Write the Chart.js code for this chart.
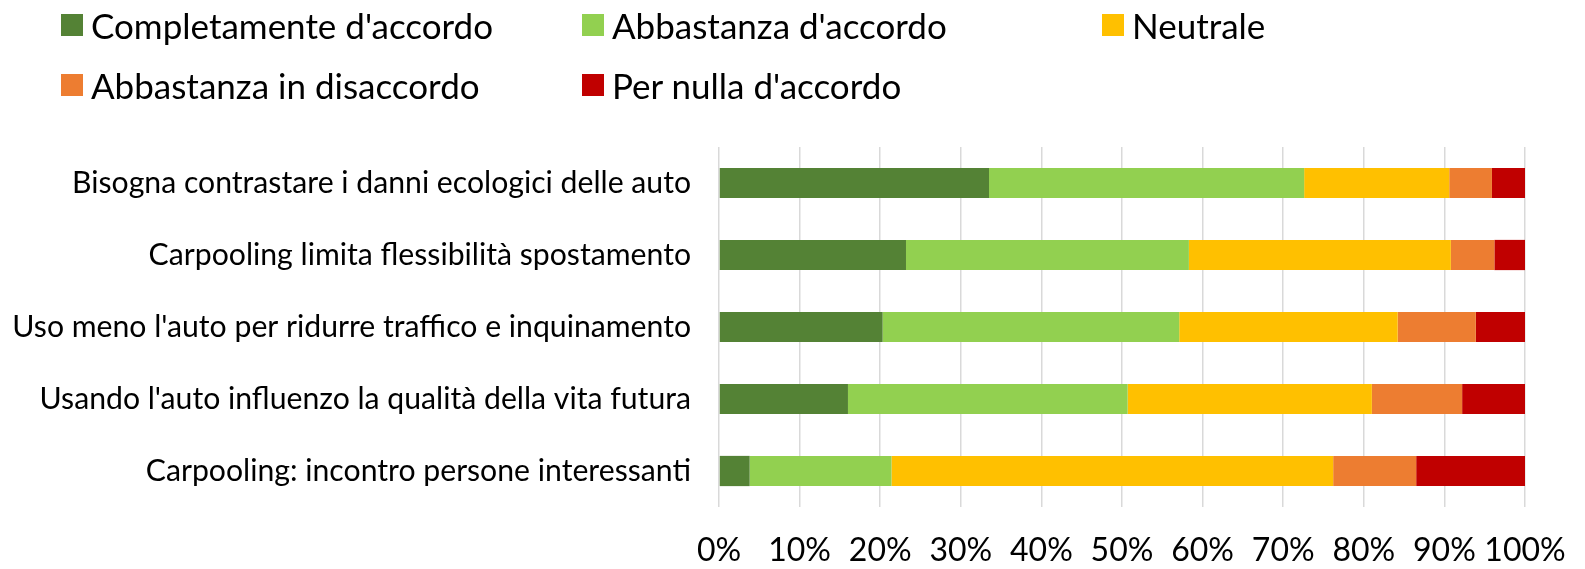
<!DOCTYPE html>
<html>
<head>
<meta charset="utf-8">
<script src="https://cdn.jsdelivr.net/npm/chart.js@4.4.1/dist/chart.umd.min.js"></script>
<style>
  html, body { margin: 0; padding: 0; background: #fff; }
  #wrap { position: relative; width: 1585px; height: 569px; overflow: hidden; }
  #c { position: absolute; left: 0; top: 0; }
  .lg { position: absolute; font-family: Lato, sans-serif; font-size: 35px; color: #000; white-space: nowrap; line-height: 40px; }
  .lg span.box { position: absolute; width: 22px; height: 22px; left: -30px; top: 9px; }
</style>
</head>
<body>
<div id="wrap">
  <canvas id="c" width="1585" height="569"></canvas>
  <div id="legend"></div>
</div>
<script>
const categories = [
  "Bisogna contrastare i danni ecologici delle auto",
  "Carpooling limita flessibilità spostamento",
  "Uso meno l'auto per ridurre traffico e inquinamento",
  "Usando l'auto influenzo la qualità della vita futura",
  "Carpooling: incontro persone interessanti"
];
const seriesNames = [
  "Completamente d'accordo",
  "Abbastanza d'accordo",
  "Neutrale",
  "Abbastanza in disaccordo",
  "Per nulla d'accordo"
];
const completamente = [33.5, 23.2, 20.3, 16.0, 3.8];
const abbastanza    = [39.1, 35.1, 36.8, 34.7, 17.6];
const neutrale      = [18.0, 32.5, 27.1, 30.3, 54.8];
const disaccordo    = [5.3, 5.4, 9.7, 11.2, 10.3];
const perNulla      = [4.1, 3.8, 6.1, 7.8, 13.5];
const tickValues = [0, 10, 20, 30, 40, 50, 60, 70, 80, 90, 100];
const colors = ["#548235", "#92D050", "#FFC000", "#ED7D31", "#C00000"];

const seriesValues = [completamente, abbastanza, neutrale, disaccordo, perNulla];

// HTML legend (Excel style, columns)
const legendPos = [[91, 5], [612, 5], [1132, 5], [91, 65], [612, 65]];
const legendEl = document.getElementById('legend');
seriesNames.forEach((n, i) => {
  const d = document.createElement('div');
  d.className = 'lg';
  d.style.left = legendPos[i][0] + 'px';
  d.style.top = legendPos[i][1] + 'px';
  const b = document.createElement('span');
  b.className = 'box';
  b.style.background = colors[i];
  d.appendChild(b);
  d.appendChild(document.createTextNode(n));
  legendEl.appendChild(d);
});

new Chart(document.getElementById('c'), {
  type: 'bar',
  data: {
    labels: categories,
    datasets: seriesNames.map((n, i) => ({
      label: n,
      data: seriesValues[i],
      backgroundColor: colors[i],
      borderWidth: 0,
      barPercentage: 0.42,
      categoryPercentage: 1.0
    }))
  },
  options: {
    indexAxis: 'y',
    responsive: false,
    animation: false,
    devicePixelRatio: 1,
    layout: { padding: { top: 147, right: 60, left: 0, bottom: 0 } },
    plugins: { legend: { display: false }, tooltip: { enabled: false } },
    scales: {
      x: {
        stacked: true,
        min: 0, max: 100,
        afterBuildTicks: (s) => { s.ticks = tickValues.map(v => ({ value: v })); },
        ticks: {
          callback: (v) => v + '%',
          color: '#000',
          font: { family: 'Lato', size: 32 },
          padding: 24,
          maxRotation: 0,
          autoSkip: false
        },
        grid: { color: '#d9d9d9', lineWidth: 1.5, drawTicks: false },
        border: { display: false },
        afterFit: (s) => { s.height = 62; s.paddingLeft = 0; s.paddingRight = 0; }
      },
      y: {
        stacked: true,
        ticks: {
          color: '#000',
          font: { family: 'Lato', size: 30.2 },
          padding: 28
        },
        grid: { display: false, drawTicks: false },
        border: { display: false },
        afterFit: (s) => { s.width = 719; }
      }
    }
  }
});
</script>
</body>
</html>
